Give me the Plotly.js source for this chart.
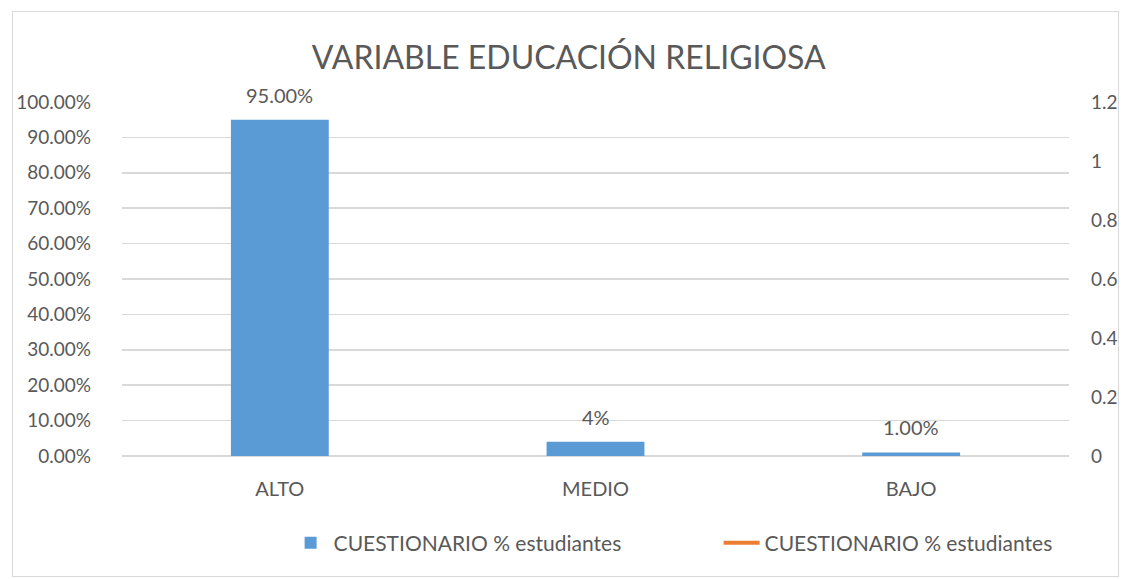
<!DOCTYPE html>
<html>
<head>
<meta charset="utf-8">
<script src="https://cdn.plot.ly/plotly-3.0.1.min.js"></script>
<style>
  html, body { margin: 0; padding: 0; background: #fff; }
  #wrap { position: relative; width: 1124px; height: 579px; }
  #chart { width: 1124px; height: 579px; }
  #frame { position: absolute; left: 12px; top: 11px; width: 1107px; height: 566px;
           border: 1px solid #D9D9D9; box-sizing: border-box; pointer-events: none; }
</style>
</head>
<body>
<div id="wrap">
  <div id="chart"></div>
  <div id="frame"></div>
</div>
<script>
const categories = ["ALTO", "MEDIO", "BAJO"];
const barValues = [0.95, 0.04, 0.01];
const barLabels = ["95.00%", "4%", "1.00%"];
const lineValues = [null, null, null];
const seriesName = "CUESTIONARIO % estudiantes";

const font = "Lato, 'Open Sans', sans-serif";
const textColor = "#595959";

const traces = [
  {
    type: "bar",
    x: categories,
    y: barValues,
    name: seriesName,
    marker: { color: "#5B9BD5" },
    width: 0.31,
    hoverinfo: "none"
  },
  {
    type: "scatter",
    mode: "lines",
    x: categories,
    y: lineValues,
    name: seriesName,
    yaxis: "y2",
    line: { color: "#ED7D31", width: 4 },
    showlegend: true,
    hoverinfo: "none"
  }
];

const annotations = categories.map((c, i) => ({
  x: c, y: barValues[i], xref: "x", yref: "y",
  text: barLabels[i], showarrow: false,
  yanchor: "middle", yshift: 25,
  font: { family: font, size: 20, color: textColor }
}));

const layout = {
  width: 1124,
  height: 579,
  margin: { l: 122, r: 55, t: 102, b: 123, autoexpand: false },
  paper_bgcolor: "#ffffff",
  plot_bgcolor: "#ffffff",
  font: { family: font, color: textColor, size: 19 },
  title: {
    text: "VARIABLE EDUCACIÓN RELIGIOSA",
    font: { family: font, size: 32, color: textColor },
    x: 0.506, xanchor: "center",
    y: 0.9, yanchor: "middle"
  },
  annotations: annotations,
  xaxis: {
    type: "category",
    showgrid: false,
    showline: false,
    zeroline: false,
    ticks: "",
    tickfont: { family: font, size: 20, color: textColor },
    ticklabelstandoff: 19,
    automargin: false
  },
  yaxis: {
    range: [0, 1],
    dtick: 0.1,
    tickformat: ".2%",
    showgrid: true,
    gridcolor: "#D9D9D9",
    gridwidth: 1.5,
    zeroline: true,
    zerolinecolor: "#D9D9D9",
    zerolinewidth: 1.5,
    showline: false,
    ticks: "",
    tickfont: { family: font, size: 19, color: textColor },
    ticklabelstandoff: 30,
    automargin: false
  },
  yaxis2: {
    overlaying: "y",
    side: "right",
    range: [0, 1.2],
    dtick: 0.2,
    showgrid: false,
    zeroline: false,
    showline: false,
    ticks: "",
    tickfont: { family: font, size: 19, color: textColor },
    ticklabelstandoff: 21,
    automargin: false
  },
  showlegend: true,
  legend: {
    orientation: "h",
    x: 0.63, xanchor: "center",
    y: -0.246, yanchor: "middle",
    font: { family: font, size: 21, color: textColor },
    entrywidth: 380,
    entrywidthmode: "pixels",
    itemwidth: 36,
    traceorder: "normal"
  }
};

Plotly.newPlot("chart", traces, layout, { displayModeBar: false, staticPlot: true });
</script>
</body>
</html>
